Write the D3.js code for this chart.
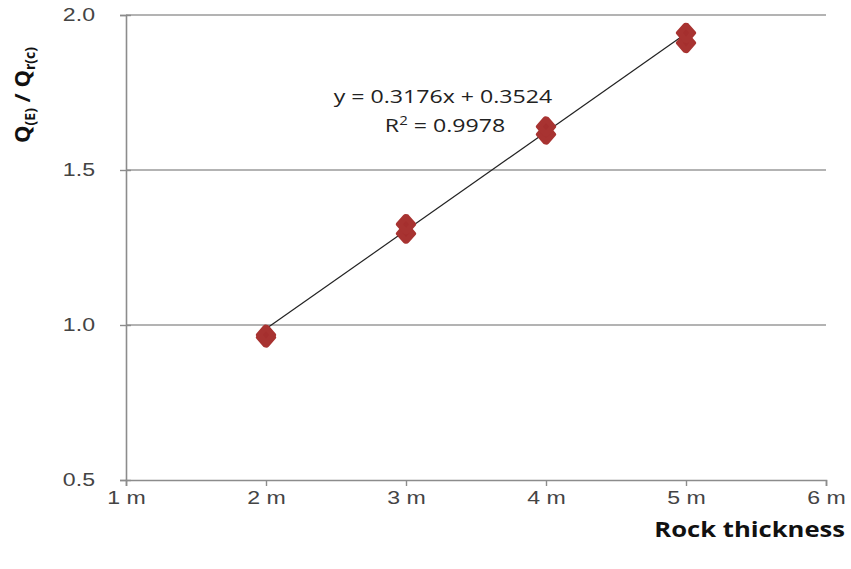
<!DOCTYPE html>
<html>
<head>
<meta charset="utf-8">
<script src="https://cdn.jsdelivr.net/npm/d3@7"></script>
<style>
  html, body { margin: 0; padding: 0; background: #fff; }
  svg { display: block; font-family: "Open Sans", "Liberation Sans", sans-serif; }
</style>
</head>
<body>
<svg id="chart" width="851" height="569"></svg>
<script>
// Rock thickness (m) and measured discharge ratio, two runs per thickness
const thickness = [2, 2, 3, 3, 4, 4, 5, 5];
const ratio = [0.960, 0.968, 1.295, 1.325, 1.615, 1.640, 1.910, 1.942];

// Linear trendline fitted to the measurements
const slope = 0.3176;
const intercept = 0.3524;
const rSquared = 0.9978;

const xTicks = [1, 2, 3, 4, 5, 6];
const yTicks = [0.5, 1.0, 1.5, 2.0];

const svg = d3.select("#chart");
const margin = { left: 126, right: 25, top: 15, bottom: 89 };
const W = 851, H = 569;
const SX = 1.25; // horizontal stretch applied to labels

const x = d3.scaleLinear().domain([1, 6]).range([margin.left, W - margin.right]);
const y = d3.scaleLinear().domain([0.5, 2.0]).range([H - margin.bottom, margin.top]);

// Horizontal gridlines
svg.append("g")
  .selectAll("line")
  .data(yTicks.filter(d => d > 0.5))
  .join("line")
  .attr("x1", x(1)).attr("x2", x(6))
  .attr("y1", d => y(d)).attr("y2", d => y(d))
  .attr("stroke", "#9a9a9a")
  .attr("stroke-width", 1.6);

// Y axis
const yAxis = svg.append("g")
  .attr("transform", `translate(${x(1)},0)`)
  .call(d3.axisLeft(y).tickValues(yTicks).tickFormat(d3.format(".1f")).tickSize(6));
yAxis.select(".domain").attr("stroke", "#8c8c8c").attr("stroke-width", 1.6);
yAxis.selectAll(".tick line").attr("stroke", "#8c8c8c").attr("stroke-width", 1.4)
  .attr("x2", 5).attr("x1", -6);
yAxis.selectAll(".tick text")
  .attr("fill", "#444").attr("font-size", 18.5)
  .attr("x", -31 / SX)
  .attr("transform", `scale(${SX},1)`);

// X axis
const xAxis = svg.append("g")
  .attr("transform", `translate(0,${y(0.5)})`)
  .call(d3.axisBottom(x).tickValues(xTicks).tickFormat(d => d + " m").tickSize(6).tickPadding(5));
xAxis.select(".domain").attr("stroke", "#8c8c8c").attr("stroke-width", 1.6);
xAxis.selectAll(".tick line").attr("stroke", "#8c8c8c").attr("stroke-width", 1.4);
xAxis.selectAll(".tick text")
  .attr("fill", "#444").attr("font-size", 18.5)
  .attr("transform", `scale(${SX},1)`);

// Trendline across the measured range
const xMin = d3.min(thickness), xMax = d3.max(thickness);
svg.append("line")
  .attr("x1", x(xMin)).attr("y1", y(slope * xMin + intercept))
  .attr("x2", x(xMax)).attr("y2", y(slope * xMax + intercept))
  .attr("stroke", "#222")
  .attr("stroke-width", 1.2);

// Rounded diamond markers
const diamond = d3.symbol().type(d3.symbolDiamond).size(90);
svg.append("g")
  .selectAll("path")
  .data(thickness.map((t, i) => [t, ratio[i]]))
  .join("path")
  .attr("d", diamond)
  .attr("transform", d => `translate(${x(d[0])},${y(d[1])}) scale(1.35,0.9)`)
  .attr("fill", "#a52f2e")
  .attr("stroke", "#a83331")
  .attr("stroke-width", 5)
  .attr("stroke-linejoin", "round");

// Trendline equation and coefficient of determination
const eq = svg.append("g")
  .attr("fill", "#222").attr("font-size", 18.5).attr("text-anchor", "middle")
  .attr("transform", `scale(${SX},1)`);
eq.append("text").attr("x", 443 / SX).attr("y", 103)
  .text(`y = ${slope}x + ${intercept}`);
const r2 = eq.append("text").attr("x", 445 / SX).attr("y", 132);
r2.append("tspan").text("R");
r2.append("tspan").attr("dy", -7).attr("font-size", 12).text("2");
r2.append("tspan").attr("dy", 7).text(` = ${rSquared}`);

// Axis titles
svg.append("text")
  .attr("transform", `translate(845,537) scale(${SX},1)`)
  .attr("text-anchor", "end")
  .attr("font-size", 20.5).attr("font-weight", "bold").attr("fill", "#111")
  .text("Rock thickness");

const yt = svg.append("text")
  .attr("transform", "translate(30,95) rotate(-90)")
  .attr("text-anchor", "middle")
  .attr("font-size", 22).attr("font-weight", "bold").attr("fill", "#111");
yt.append("tspan").text("Q");
yt.append("tspan").attr("dy", 5).attr("font-size", 14).text("(E)");
yt.append("tspan").attr("dy", -5).text(" / Q");
yt.append("tspan").attr("dy", 5).attr("font-size", 14).text("r(c)");
</script>
</body>
</html>
